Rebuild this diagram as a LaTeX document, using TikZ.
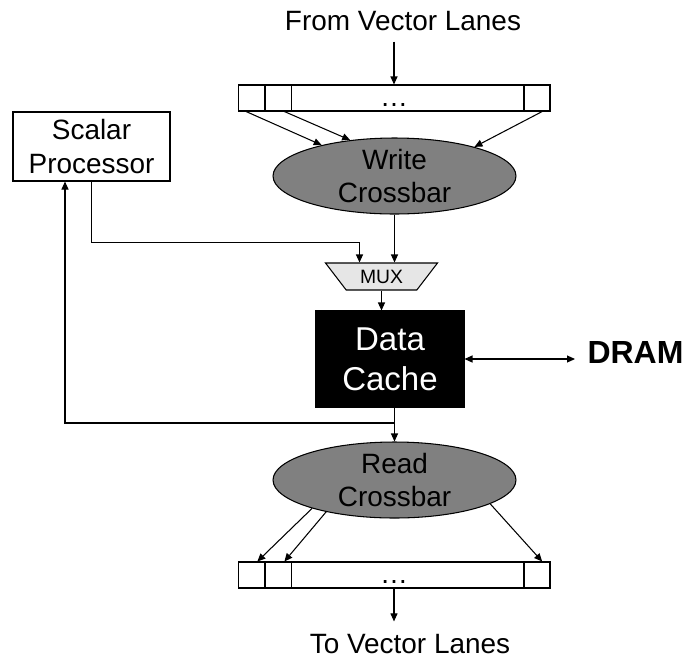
\documentclass[tikz,border=0pt]{standalone}
\usepackage{fontspec}
\setmainfont{Liberation Sans}
\usetikzlibrary{shapes.geometric,arrows.meta,calc}
\definecolor{xbargray}{HTML}{808080}
\definecolor{muxgray}{HTML}{E6E6E6}

\begin{document}
\begin{tikzpicture}
          [x=0.02cm,y=-0.02cm,line width=0.6pt,
          lbl/.style={font=\fontsize{15.9}{19}\selectfont},
          box/.style={shape=rectangle,draw=black,fill=white,align=center,inner sep=0pt,font=\fontsize{15.9}{18.8}\selectfont},
          xbar/.style={shape=ellipse,draw=black,fill=xbargray,minimum width=4.86cm,minimum height=1.52cm,inner sep=0pt,align=center,font=\fontsize{15.9}{18.8}\selectfont},
          muxbox/.style={shape=trapezium,trapezium left angle=133,trapezium right angle=133,trapezium stretches=true,minimum width=2.24cm,minimum height=0.54cm,inner sep=0pt,draw=black,fill=muxgray,font=\fontsize{11}{13}\selectfont},
          cachebox/.style={shape=rectangle,draw=black,fill=black,text=white,align=center,minimum width=2.96cm,minimum height=1.92cm,inner sep=0pt,font=\fontsize{18.8}{22.8}\selectfont},
          lanes/.style={shape=rectangle,draw=black,minimum width=6.24cm,minimum height=0.52cm,inner sep=0pt,text height=0.36cm,text depth=0.04cm,font=\fontsize{15.9}{19}\selectfont},
          cell/.style={shape=rectangle,draw=black,minimum width=0.52cm,minimum height=0.52cm,inner sep=0pt},
          arc/.style={-{Triangle[length=0.16cm,width=0.14cm]}},
          dbl/.style={{Triangle[length=0.16cm,width=0.14cm]}-{Triangle[length=0.16cm,width=0.14cm]}}]

            \useasboundingbox (0,0) rectangle (690,657);

            \node (from) [lbl,anchor=base] at (403,30) {From Vector Lanes};
            \node (inbar) [lanes] at (394,98) {…};
            \node (in1) [cell,anchor=west] at (inbar.west) {};
            \node (in2) [cell,anchor=west] at (in1.east) {};
            \node (in4) [cell,anchor=east] at (inbar.east) {};
            \node (wxbar) [xbar] at (394.5,176) {Write\\Crossbar};
            \node (sp) [box,minimum width=3.14cm,minimum height=1.38cm] at (91.5,146.5) {Scalar\\Processor};
            \node (mux) [muxbox] at (381.5,276.5) {MUX};
            \node (cache) [cachebox] at (390,359) {Data\\Cache};
            \node (dram) [anchor=base west,inner sep=0pt,inner xsep=0.24cm,font=\fontsize{18.2}{22}\selectfont\bfseries] at (575,363) {DRAM};
            \node (rxbar) [xbar] at (394.5,480) {Read\\Crossbar};
            \node (outbar) [lanes] at (394,575) {…};
            \node (out1) [cell,anchor=west] at (outbar.west) {};
            \node (out2) [cell,anchor=west] at (out1.east) {};
            \node (out4) [cell,anchor=east] at (outbar.east) {};
            \node (to) [lbl,anchor=base] at (410,653) {To Vector Lanes};
            \coordinate (split) at (394.5,423);

          \draw [arc,shorten <=0.1cm] (inbar.north |- from.south) -- (inbar.north);
          \draw [arc] (in1.250) -- (wxbar.157);
          \draw [arc] (in2.295) -- (wxbar.141);
          \draw [arc] (in4.291) -- (wxbar.20);
          \draw [arc] (wxbar.south) -- (wxbar.south |- mux.north);
          \draw [arc] (sp.south) -- ++(0,61) -| ($(mux.north)+(-22,0)$);
          \draw [arc] (mux.south) -- (mux.south |- cache.north);
          \draw [dbl] (cache.east) -- (cache.east -| dram.west);
          \draw [arc] (rxbar.north |- cache.south) -- (rxbar.north);
          \draw [arc] (split) -| ($(sp.south)+(-26.5,0)$);
          \draw [arc] (rxbar.199) -- (out1.65);
          \draw [arc] (rxbar.205) -- (out2.65);
          \draw [arc] (rxbar.346) -- (out4.69);
          \draw [arc,shorten >=0.12cm] (outbar.south) -- (outbar.south |- to.north);

        \end{tikzpicture}
\end{document}
